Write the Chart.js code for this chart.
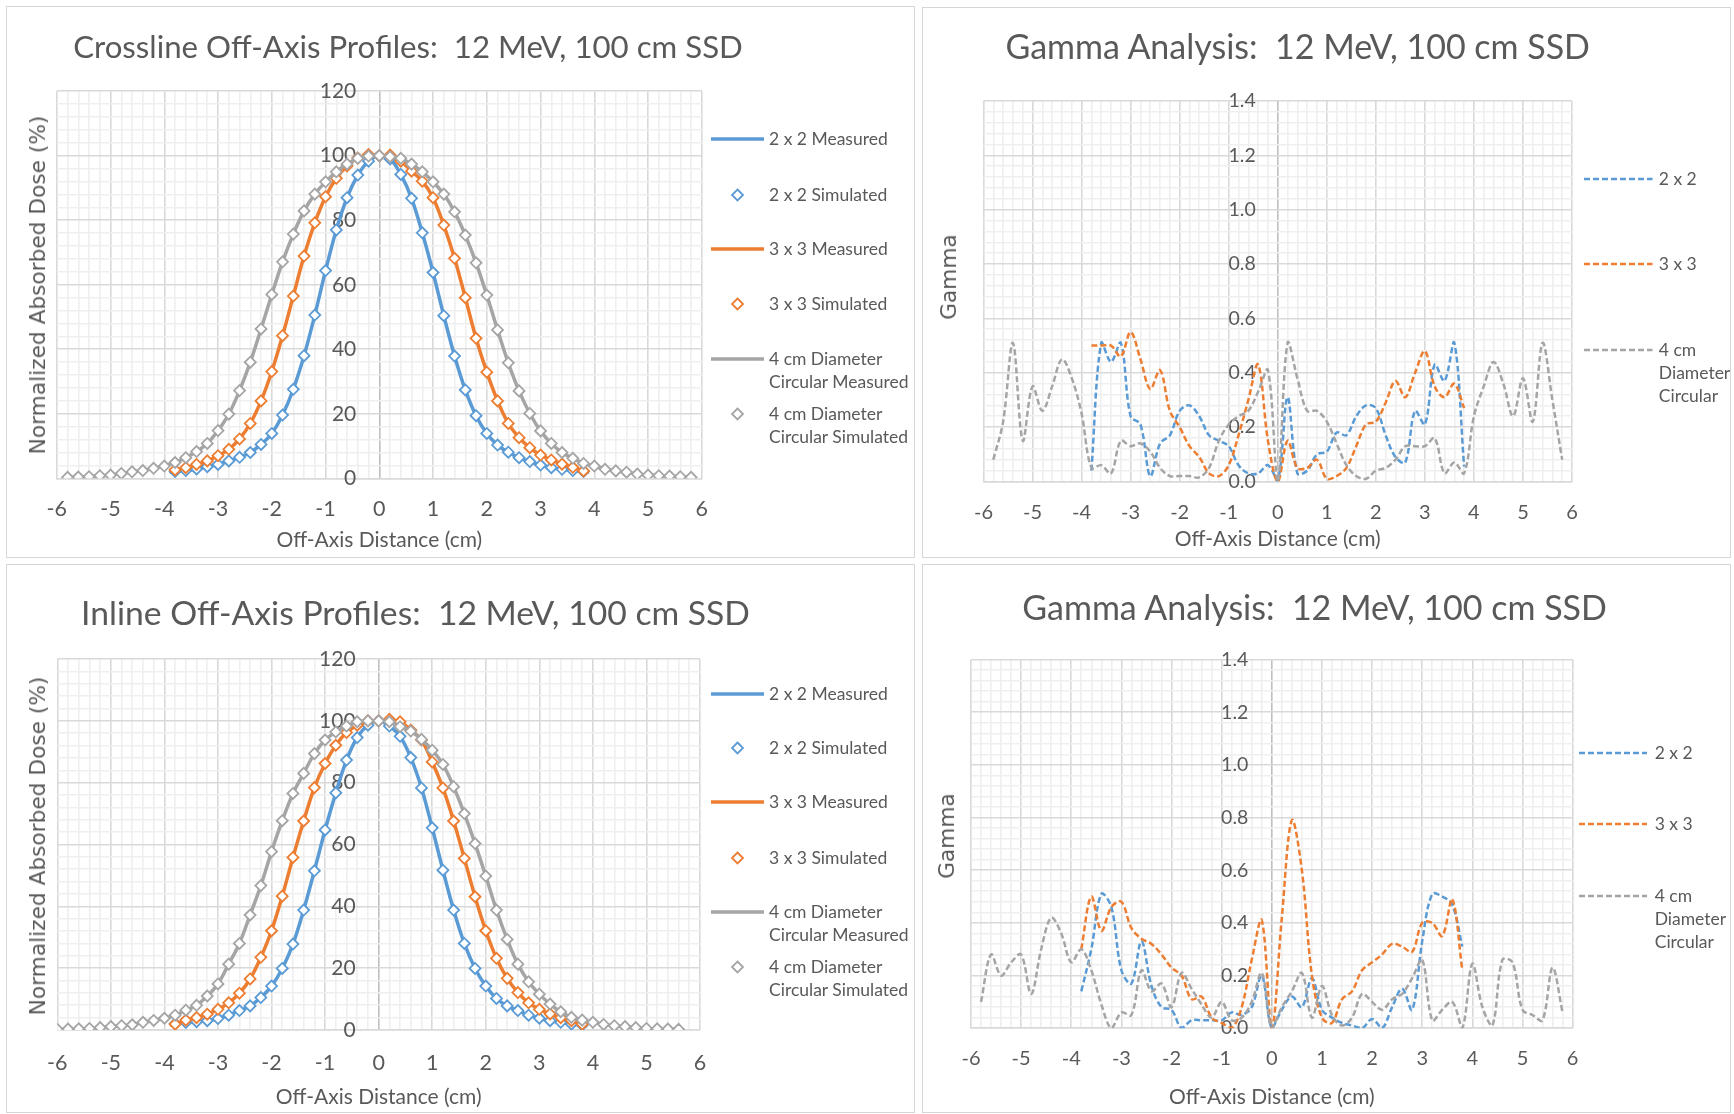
<!DOCTYPE html>
<html>
<head>
<meta charset="utf-8">
<title>12 MeV, 100 cm SSD: off-axis profiles and gamma analysis</title>
<script src="https://cdn.jsdelivr.net/npm/chart.js@4.4.1/dist/chart.umd.min.js"></script>
<style>
  html, body { margin: 0; padding: 0; background: #ffffff; }
  body { position: relative; width: 1734px; height: 1114px; overflow: hidden;
         font-family: Lato, "Open Sans", sans-serif; color: #595959; }
  .panel { position: absolute; box-sizing: border-box; border: 1.5px solid #d6d6d6; }
  canvas { position: absolute; }
  .title { position: absolute; width: 900px; text-align: center; white-space: pre; }
  .ytitle { position: absolute; white-space: nowrap; font-family: "DejaVu Sans", Verdana, sans-serif;
            font-size: 21.7px; line-height: 26px; transform: translate(-50%, -50%) rotate(-90deg); }
  .legtext { position: absolute; white-space: nowrap; font-size: 17.5px; line-height: 23px; }
  svg.sym { position: absolute; overflow: visible; }
</style>
</head>
<body>
<script>
// ---------------------------------------------------------------------------
// Tick labels
// ---------------------------------------------------------------------------
const X_TICK_LABELS = ['-6', '-5', '-4', '-3', '-2', '-1', '0', '1', '2', '3', '4', '5', '6'];
const DOSE_TICK_LABELS = ['0', '20', '40', '60', '80', '100', '120'];
const GAMMA_TICK_LABELS = ['0.0', '0.2', '0.4', '0.6', '0.8', '1.0', '1.2', '1.4'];

// ---------------------------------------------------------------------------
// Off-axis positions (cm)
// ---------------------------------------------------------------------------
const X_WIDE = [-5.8, -5.6, -5.4, -5.2, -5.0, -4.8, -4.6, -4.4, -4.2, -4.0, -3.8, -3.6, -3.4, -3.2, -3.0,
  -2.8, -2.6, -2.4, -2.2, -2.0, -1.8, -1.6, -1.4, -1.2, -1.0, -0.8, -0.6, -0.4, -0.2, 0,
  0.2, 0.4, 0.6, 0.8, 1.0, 1.2, 1.4, 1.6, 1.8, 2.0, 2.2, 2.4, 2.6, 2.8, 3.0, 3.2, 3.4, 3.6, 3.8,
  4.0, 4.2, 4.4, 4.6, 4.8, 5.0, 5.2, 5.4, 5.6, 5.8];
const X_INLINE_WIDE = [-6.0, -5.8, -5.6, -5.4, -5.2, -5.0, -4.8, -4.6, -4.4, -4.2, -4.0, -3.8, -3.6, -3.4,
  -3.2, -3.0, -2.8, -2.6, -2.4, -2.2, -2.0, -1.8, -1.6, -1.4, -1.2, -1.0, -0.8, -0.6, -0.4, -0.2, 0,
  0.2, 0.4, 0.6, 0.8, 1.0, 1.2, 1.4, 1.6, 1.8, 2.0, 2.2, 2.4, 2.6, 2.8, 3.0, 3.2, 3.4, 3.6, 3.8,
  4.0, 4.2, 4.4, 4.6, 4.8, 5.0, 5.2, 5.4, 5.6];
const X_NARROW = [-3.8, -3.6, -3.4, -3.2, -3.0, -2.8, -2.6, -2.4, -2.2, -2.0, -1.8, -1.6, -1.4, -1.2,
  -1.0, -0.8, -0.6, -0.4, -0.2, 0, 0.2, 0.4, 0.6, 0.8, 1.0, 1.2, 1.4, 1.6, 1.8, 2.0, 2.2, 2.4, 2.6,
  2.8, 3.0, 3.2, 3.4, 3.6, 3.8];
const X_NARROW_MEAS = [-3.9, -3.8, -3.6, -3.4, -3.2, -3.0, -2.8, -2.6, -2.4, -2.2, -2.0, -1.8, -1.6, -1.4,
  -1.2, -1.0, -0.8, -0.6, -0.4, -0.2, 0, 0.2, 0.4, 0.6, 0.8, 1.0, 1.2, 1.4, 1.6, 1.8, 2.0, 2.2, 2.4,
  2.6, 2.8, 3.0, 3.2, 3.4, 3.6, 3.8, 3.9];

// ---------------------------------------------------------------------------
// Crossline profiles: normalized absorbed dose (%)
// ---------------------------------------------------------------------------
const crossBlueMeas = [1.9, 2.1, 2.4, 2.9, 3.6, 4.3, 5.4, 6.5, 8.0, 10.5, 13.9, 19.6, 27.6, 38.0, 50.6, 64.4,
  77.0, 87.0, 94.0, 98.3, 100, 99.0, 94.2, 86.8, 76.1, 63.8, 50.4, 37.9, 27.4, 19.4, 13.9, 10.3, 8.1,
  6.4, 5.2, 4.1, 3.3, 2.8, 2.4, 2.1, 1.9];
const crossBlueSim = [2.1, 2.4, 2.9, 3.6, 4.3, 5.4, 6.5, 8.0, 10.5, 13.9, 19.6, 27.6, 38.0, 50.6, 64.4,
  77.0, 87.0, 94.0, 98.3, 100, 99.0, 94.2, 86.8, 76.1, 63.8, 50.4, 37.9, 27.4, 19.4, 13.9, 10.3, 8.1,
  6.4, 5.2, 4.1, 3.3, 2.8, 2.4, 2.1];
const crossOrangeMeas = [2.3, 2.6, 3.3, 4.3, 5.4, 7.0, 9.0, 12.2, 17.0, 24.0, 33.1, 44.2, 56.5, 68.9, 79.2,
  87.3, 93.0, 96.8, 99.3, 100.0, 100, 99.9, 98.3, 95.2, 92.1, 87.0, 78.5, 68.2, 56.0, 43.4, 32.9, 24.0,
  17.0, 12.6, 9.5, 7.2, 5.7, 4.4, 3.4, 2.3, 2.0];
const crossOrangeSim = [2.6, 3.3, 4.3, 5.4, 7.0, 9.0, 12.2, 17.0, 24.0, 33.1, 44.2, 56.5, 68.9, 79.2,
  87.3, 93.0, 96.8, 99.3, 100.4, 100.0, 100.2, 98.3, 95.2, 92.1, 87.0, 78.5, 68.2, 56.0, 43.4, 32.9,
  24.0, 17.0, 12.6, 9.5, 7.2, 5.7, 4.4, 3.4, 2.3];
const crossGrayMeas = [0.3, 0.4, 0.5, 0.8, 1.0, 1.5, 2.0, 2.4, 3.1, 3.8, 4.9, 6.4, 8.3, 10.8, 14.8, 19.9,
  27.2, 36.0, 46.3, 57.0, 67.1, 75.7, 82.9, 88.1, 91.9, 95.0, 97.4, 99.2, 99.9, 100, 99.7, 99.2, 97.4,
  95.0, 91.9, 88.1, 82.6, 75.4, 66.8, 56.8, 46.0, 35.8, 27.1, 20.1, 14.7, 10.8, 8.0, 6.2, 4.6, 3.8,
  2.8, 2.3, 1.9, 1.3, 1.0, 0.8, 0.7, 0.5, 0.3];
const crossGraySim = [0.3, 0.4, 0.5, 0.8, 1.0, 1.5, 2.0, 2.4, 3.1, 3.8, 4.9, 6.4, 8.3, 10.8, 14.8, 19.9,
  27.2, 36.0, 46.3, 57.0, 67.1, 75.7, 82.9, 88.1, 91.9, 95.0, 97.4, 99.2, 99.9, 100, 99.7, 99.2, 97.4,
  95.0, 91.9, 88.1, 82.6, 75.4, 66.8, 56.8, 46.0, 35.8, 27.1, 20.1, 14.7, 10.8, 8.0, 6.2, 4.6, 3.8,
  2.8, 2.3, 1.9, 1.3, 1.0, 0.8, 0.7, 0.5, 0.3];

// ---------------------------------------------------------------------------
// Inline profiles: normalized absorbed dose (%)
// ---------------------------------------------------------------------------
const inlineBlueMeas = [1.8, 2.0, 2.4, 2.7, 3.0, 3.7, 4.8, 6.3, 7.8, 10.5, 14.2, 19.9, 27.8, 38.8, 51.5,
  64.7, 76.7, 87.3, 94.6, 98.6, 100, 98.3, 95.0, 88.1, 78.3, 65.4, 51.7, 38.8, 28.0, 19.9, 14.2, 10.2,
  7.8, 6.3, 4.8, 3.8, 3.0, 2.5, 1.9, 1.6, 1.4];
const inlineBlueSim = [2.0, 2.4, 2.7, 3.0, 3.7, 4.8, 6.3, 7.8, 10.5, 14.2, 19.9, 27.8, 38.8, 51.5, 64.7,
  76.7, 87.3, 94.6, 98.6, 100, 98.3, 95.0, 88.1, 78.3, 65.4, 51.7, 38.8, 28.0, 19.9, 14.2, 10.2, 7.8,
  6.3, 4.8, 3.8, 3.0, 2.5, 1.9, 1.6];
const inlineOrangeMeas = [1.6, 1.9, 3.2, 4.0, 5.1, 6.7, 8.8, 11.9, 16.5, 23.5, 32.1, 43.3, 55.8, 67.6, 78.4,
  86.2, 92.1, 96.2, 98.6, 99.8, 100, 100.1, 99.7, 97.0, 93.8, 86.7, 78.3, 67.6, 55.5, 43.1, 32.1, 23.2,
  16.7, 12.1, 8.8, 6.7, 5.2, 4.0, 3.0, 1.9, 1.6];
const inlineOrangeSim = [1.9, 3.2, 4.0, 5.1, 6.7, 8.8, 11.9, 16.5, 23.5, 32.1, 43.3, 55.8, 67.6, 78.4,
  86.2, 92.1, 96.2, 98.6, 100.0, 100.0, 100.5, 99.7, 97.0, 93.8, 86.7, 78.3, 67.6, 55.5, 43.1, 32.1,
  23.2, 16.7, 12.1, 8.8, 6.7, 5.2, 4.0, 3.0, 1.9];
const inlineGrayMeas = [0.2, 0.3, 0.4, 0.5, 0.8, 1.1, 1.4, 1.7, 2.5, 3.1, 3.8, 4.8, 6.4, 8.0, 11.0, 14.9,
  21.3, 28.0, 37.2, 46.7, 57.7, 67.7, 76.5, 83.0, 89.4, 93.8, 96.4, 98.3, 99.7, 100.0, 100, 99.7, 98.1,
  96.7, 94.0, 90.5, 85.9, 78.7, 70.0, 60.3, 49.8, 38.8, 29.3, 21.3, 15.6, 11.6, 8.4, 5.9, 4.1, 3.2,
  2.5, 1.8, 1.4, 1.1, 0.8, 0.5, 0.4, 0.3, 0.2];
const inlineGraySim = [0.2, 0.3, 0.4, 0.5, 0.8, 1.1, 1.4, 1.7, 2.5, 3.1, 3.8, 4.8, 6.4, 8.0, 11.0, 14.9,
  21.3, 28.0, 37.2, 46.7, 57.7, 67.7, 76.5, 83.0, 89.4, 93.8, 96.4, 98.3, 99.7, 100.0, 100, 99.7, 98.1,
  96.7, 94.0, 90.5, 85.9, 78.7, 70.0, 60.3, 49.8, 38.8, 29.3, 21.3, 15.6, 11.6, 8.4, 5.9, 4.1, 3.2,
  2.5, 1.8, 1.4, 1.1, 0.8, 0.5, 0.4, 0.3, 0.2];

// ---------------------------------------------------------------------------
// Gamma index, crossline
// ---------------------------------------------------------------------------
const crossGammaBlue = [0.04, 0.51, 0.44, 0.51, 0.24, 0.21, 0.02, 0.14, 0.17, 0.26, 0.28, 0.24, 0.17, 0.15,
  0.13, 0.06, 0.03, 0.03, 0.06, 0.0, 0.31, 0.03, 0.04, 0.10, 0.11, 0.18, 0.17, 0.24, 0.28, 0.27, 0.17,
  0.09, 0.07, 0.26, 0.21, 0.43, 0.37, 0.51, 0.055];
const crossGammaOrange = [0.50, 0.50, 0.50, 0.46, 0.55, 0.45, 0.34, 0.41, 0.26, 0.20, 0.13, 0.09, 0.03,
  0.02, 0.06, 0.17, 0.30, 0.43, 0.15, 0.0, 0.15, 0.05, 0.05, 0.08, 0.01, 0.02, 0.05, 0.13, 0.21, 0.22,
  0.29, 0.37, 0.31, 0.40, 0.48, 0.35, 0.31, 0.36, 0.27];
const crossGammaGray = [0.08, 0.22, 0.51, 0.15, 0.35, 0.26, 0.35, 0.45, 0.38, 0.25, 0.05, 0.06, 0.03, 0.15,
  0.13, 0.14, 0.11, 0.05, 0.02, 0.02, 0.02, 0.015, 0.05, 0.15, 0.21, 0.24, 0.26, 0.33, 0.41, 0.0,
  0.51, 0.38, 0.26, 0.26, 0.22, 0.14, 0.06, 0.02, 0.01, 0.04, 0.05, 0.08, 0.13, 0.13, 0.13, 0.16,
  0.03, 0.07, 0.03, 0.24, 0.35, 0.44, 0.36, 0.24, 0.38, 0.22, 0.51, 0.30, 0.08];

// ---------------------------------------------------------------------------
// Gamma index, inline
// ---------------------------------------------------------------------------
const inlineGammaBlue = [0.14, 0.30, 0.51, 0.46, 0.22, 0.17, 0.33, 0.16, 0.08, 0.07, 0.0, 0.03, 0.03, 0.03,
  0.03, 0.06, 0.05, 0.08, 0.20, 0.0, 0.07, 0.12, 0.08, 0.19, 0.07, 0.04, 0.02, 0.01, 0.0, 0.035, 0.0,
  0.08, 0.15, 0.07, 0.33, 0.51, 0.50, 0.47, 0.31];
const inlineGammaOrange = [0.30, 0.50, 0.37, 0.46, 0.48, 0.38, 0.34, 0.32, 0.28, 0.23, 0.20, 0.11, 0.12,
  0.04, 0.02, 0.0, 0.08, 0.26, 0.41, 0.0, 0.42, 0.79, 0.60, 0.20, 0.04, 0.02, 0.11, 0.14, 0.22, 0.25,
  0.28, 0.32, 0.31, 0.29, 0.40, 0.40, 0.35, 0.49, 0.22];
const inlineGammaGray = [0.10, 0.28, 0.20, 0.25, 0.28, 0.13, 0.30, 0.42, 0.36, 0.25, 0.30, 0.22, 0.09, 0.0,
  0.06, 0.05, 0.22, 0.14, 0.17, 0.08, 0.21, 0.15, 0.09, 0.04, 0.10, 0.03, 0.04, 0.10, 0.21, 0.0,
  0.08, 0.14, 0.21, 0.04, 0.16, 0.05, 0.01, 0.04, 0.13, 0.10, 0.07, 0.11, 0.13, 0.19, 0.26, 0.03,
  0.07, 0.10, 0.0, 0.245, 0.08, 0.01, 0.26, 0.25, 0.07, 0.05, 0.03, 0.23, 0.06];

// ---------------------------------------------------------------------------
// Series names
// ---------------------------------------------------------------------------
const PROFILE_NAMES = [['2 x 2 Measured'], ['2 x 2 Simulated'], ['3 x 3 Measured'], ['3 x 3 Simulated'],
  ['4 cm Diameter', 'Circular Measured'], ['4 cm Diameter', 'Circular Simulated']];
const GAMMA_NAMES = [['2 x 2'], ['3 x 3'], ['4 cm', 'Diameter', 'Circular']];

// ---------------------------------------------------------------------------
// Styling
// ---------------------------------------------------------------------------
const BLUE = '#5b9bd5', ORANGE = '#ed7d31', GRAY = '#a5a5a5';
const TEXT = '#595959';
const FONT = 'Lato, "Open Sans", sans-serif';
const GRID_MAJOR = '#d9d9d9', GRID_MINOR = '#efefef', AXIS_LINE = '#bfbfbf';

function pairs(xs, ys) { return xs.map((x, i) => ({ x: x, y: ys[i] })); }
function onStep(v, step) { const q = v / step; return Math.abs(q - Math.round(q)) < 1e-6; }

function measuredLine(label, color, xs, ys, order) {
  return { label, data: pairs(xs, ys), showLine: true, borderColor: color, borderWidth: 3.5,
           tension: 0.35, pointRadius: 0, pointHoverRadius: 0, fill: false, order };
}
function simulatedPoints(label, color, xs, ys, order) {
  return { label, data: pairs(xs, ys), showLine: false, pointStyle: 'rectRot', pointRadius: 5.5,
           pointBorderWidth: 1.8, pointBorderColor: color, pointBackgroundColor: '#ffffff',
           borderColor: color, backgroundColor: '#ffffff', order };
}
function gammaLine(label, color, xs, ys, order) {
  return { label, data: pairs(xs, ys), showLine: true, borderColor: color, borderWidth: 2.5,
           borderDash: [6, 3], tension: 0.35, pointRadius: 0, pointHoverRadius: 0, fill: false, order };
}

// ---------------------------------------------------------------------------
// Panels
// ---------------------------------------------------------------------------
const PANELS = [
  { box: [6, 6, 909, 552], plot: { l: 56.8, r: 701.8, t: 91.2, b: 478.3 }, kind: 'dose',
    title: 'Crossline Off-Axis Profiles:  12 MeV, 100 cm SSD', titleAt: [408, 58.2], titleSize: 31.2,
    yTitle: 'Normalized Absorbed Dose (%)', yTitleAt: [38, 285],
    xTickPad: 17.8, xTitlePad: 5.4, yGap: 23,
    legend: { x0: 711, x1: 764, text: 769, ys: [139, 194.6, 249, 304, 359, 414] },
    datasets: [
      measuredLine('2 x 2 Measured', BLUE, X_NARROW_MEAS, crossBlueMeas, 6),
      simulatedPoints('2 x 2 Simulated', BLUE, X_NARROW, crossBlueSim, 5),
      measuredLine('3 x 3 Measured', ORANGE, X_NARROW_MEAS, crossOrangeMeas, 4),
      simulatedPoints('3 x 3 Simulated', ORANGE, X_NARROW, crossOrangeSim, 3),
      measuredLine('4 cm Diameter Circular Measured', GRAY, X_WIDE, crossGrayMeas, 2),
      simulatedPoints('4 cm Diameter Circular Simulated', GRAY, X_WIDE, crossGraySim, 1)
    ] },
  { box: [922, 7, 809, 551], plot: { l: 983.5, r: 1572, t: 101, b: 481.5 }, kind: 'gamma',
    title: 'Gamma Analysis:  12 MeV, 100 cm SSD', titleAt: [1297.7, 58.9], titleSize: 34,
    yTitle: 'Gamma', yTitleAt: [948.5, 277],
    xTickPad: 19, xTitlePad: 6.4, yGap: 22,
    legend: { x0: 1583.5, x1: 1652, text: 1658.8, ys: [179.3, 264, 350] },
    datasets: [
      gammaLine('2 x 2', BLUE, X_NARROW, crossGammaBlue, 3),
      gammaLine('3 x 3', ORANGE, X_NARROW, crossGammaOrange, 2),
      gammaLine('4 cm Diameter Circular', GRAY, X_WIDE, crossGammaGray, 1)
    ] },
  { box: [6, 564, 909, 549], plot: { l: 57.3, r: 700, t: 659, b: 1030 }, kind: 'dose',
    title: 'Inline Off-Axis Profiles:  12 MeV, 100 cm SSD', titleAt: [415.5, 625.4], titleSize: 33.7,
    yTitle: 'Normalized Absorbed Dose (%)', yTitleAt: [38, 846],
    xTickPad: 20.6, xTitlePad: 3.4, yGap: 23,
    legend: { x0: 711, x1: 764, text: 769, ys: [693.6, 748, 802.4, 857.5, 912.3, 967.4] },
    datasets: [
      measuredLine('2 x 2 Measured', BLUE, X_NARROW_MEAS, inlineBlueMeas, 6),
      simulatedPoints('2 x 2 Simulated', BLUE, X_NARROW, inlineBlueSim, 5),
      measuredLine('3 x 3 Measured', ORANGE, X_NARROW_MEAS, inlineOrangeMeas, 4),
      simulatedPoints('3 x 3 Simulated', ORANGE, X_NARROW, inlineOrangeSim, 3),
      measuredLine('4 cm Diameter Circular Measured', GRAY, X_INLINE_WIDE, inlineGrayMeas, 2),
      simulatedPoints('4 cm Diameter Circular Simulated', GRAY, X_INLINE_WIDE, inlineGraySim, 1)
    ] },
  { box: [922, 564, 809, 549], plot: { l: 971, r: 1572.6, t: 659.6, b: 1028.2 }, kind: 'gamma',
    title: 'Gamma Analysis:  12 MeV, 100 cm SSD', titleAt: [1314.6, 620], titleSize: 34,
    yTitle: 'Gamma', yTitleAt: [947, 836],
    xTickPad: 18.8, xTitlePad: 3.4, yGap: 23.5,
    legend: { x0: 1579, x1: 1647, text: 1654.7, ys: [752.6, 824.3, 895.7] },
    datasets: [
      gammaLine('2 x 2', BLUE, X_NARROW, inlineGammaBlue, 3),
      gammaLine('3 x 3', ORANGE, X_NARROW, inlineGammaOrange, 2),
      gammaLine('4 cm Diameter Circular', GRAY, X_WIDE, inlineGammaGray, 1)
    ] }
];

function addEl(tag, cls, styles, text) {
  const el = document.createElement(tag);
  if (cls) el.className = cls;
  Object.assign(el.style, styles);
  if (text !== undefined) el.textContent = text;
  document.body.appendChild(el);
  return el;
}

function drawLegend(p) {
  const lg = p.legend;
  const names = p.kind === 'dose' ? PROFILE_NAMES : GAMMA_NAMES;
  const svgNS = 'http://www.w3.org/2000/svg';
  names.forEach((lines, i) => {
    const ds = p.datasets[i];
    const y = lg.ys[i];
    const svg = document.createElementNS(svgNS, 'svg');
    svg.setAttribute('class', 'sym');
    svg.setAttribute('width', lg.x1 - lg.x0);
    svg.setAttribute('height', 20);
    svg.style.left = lg.x0 + 'px';
    svg.style.top = (y - 10) + 'px';
    if (ds.showLine) {
      const ln = document.createElementNS(svgNS, 'line');
      ln.setAttribute('x1', 0); ln.setAttribute('x2', lg.x1 - lg.x0);
      ln.setAttribute('y1', 10); ln.setAttribute('y2', 10);
      ln.setAttribute('stroke', ds.borderColor);
      ln.setAttribute('stroke-width', ds.borderWidth);
      if (ds.borderDash) ln.setAttribute('stroke-dasharray', ds.borderDash.join(' '));
      svg.appendChild(ln);
    } else {
      const cx = (lg.x1 - lg.x0) / 2, r = 5.5;
      const pg = document.createElementNS(svgNS, 'polygon');
      pg.setAttribute('points', `${cx},${10 - r} ${cx + r},10 ${cx},${10 + r} ${cx - r},10`);
      pg.setAttribute('fill', '#ffffff');
      pg.setAttribute('stroke', ds.pointBorderColor);
      pg.setAttribute('stroke-width', 1.8);
      svg.appendChild(pg);
    }
    document.body.appendChild(svg);
    lines.forEach((t, k) => {
      addEl('div', 'legtext', { left: lg.text + 'px', top: (y - 12 + k * 23) + 'px' }, t);
    });
  });
}

function buildPanel(p) {
  const [bx, by, bw, bh] = p.box;
  addEl('div', 'panel', { left: bx + 'px', top: by + 'px', width: bw + 'px', height: bh + 'px' });
  const canvas = addEl('canvas', null, { left: bx + 'px', top: by + 'px', width: bw + 'px', height: bh + 'px' });
  canvas.width = bw; canvas.height = bh;

  const pl = p.plot;
  const zeroX = (pl.l + pl.r) / 2;
  const isDose = p.kind === 'dose';
  const yMax = isDose ? 120 : 1.4;
  const yMinor = isDose ? 4 : 0.04;
  const yMajor = isDose ? 20 : 0.2;
  const yLabels = isDose ? DOSE_TICK_LABELS : GAMMA_TICK_LABELS;
  const yTickSize = isDose ? 21 : 19.5;
  const xTickSize = isDose ? 21.5 : 20;

  new Chart(canvas, {
    type: 'scatter',
    data: { datasets: p.datasets },
    options: {
      responsive: false,
      animation: false,
      devicePixelRatio: 1,
      events: [],
      layout: { padding: { left: pl.l - bx, right: bx + bw - pl.r, top: pl.t - by, bottom: 0 } },
      plugins: { legend: { display: false }, tooltip: { enabled: false }, title: { display: false } },
      scales: {
        x: {
          type: 'linear', position: 'bottom', min: -6, max: 6,
          afterFit: s => { s.height = by + bh - pl.b; },
          ticks: {
            stepSize: 0.2, autoSkip: false, maxRotation: 0, minRotation: 0,
            padding: p.xTickPad, color: TEXT, font: { family: FONT, size: xTickSize },
            callback: v => onStep(v, 1) ? X_TICK_LABELS[Math.round(v) + 6] : ''
          },
          grid: {
            drawTicks: false,
            color: c => {
              const v = c.tick ? c.tick.value : 1;
              if (Math.abs(v) < 1e-9) return AXIS_LINE;
              return onStep(v, 1) ? GRID_MAJOR : GRID_MINOR;
            },
            lineWidth: 1.6
          },
          border: { display: true, color: GRID_MAJOR, width: 1.6 },
          title: { display: true, text: 'Off-Axis Distance (cm)', color: TEXT,
                   font: { family: FONT, size: 21 }, padding: { top: 0, bottom: p.xTitlePad } }
        },
        y: {
          // zero-width axis on the right edge; its mirrored, right-aligned labels are
          // shifted back so they end just left of the x = 0 line
          type: 'linear', position: 'right', min: 0, max: yMax,
          afterFit: s => {
            s.width = 0;
            s.paddingTop = 0; s.paddingBottom = 0; s.paddingLeft = 0; s.paddingRight = 0;
          },
          ticks: {
            mirror: true,
            stepSize: yMinor, autoSkip: false, color: TEXT, font: { family: FONT, size: yTickSize },
            padding: -(pl.r - zeroX + p.yGap),
            callback: v => onStep(v, yMajor) ? yLabels[Math.round(v / yMajor)] : ''
          },
          grid: {
            drawTicks: false,
            color: c => (c.tick && onStep(c.tick.value, yMajor)) ? GRID_MAJOR : GRID_MINOR,
            lineWidth: 1.6
          },
          border: { display: false }
        }
      }
    }
  });

  const fs = p.titleSize;
  // baseline of a one-line box with line-height = font-size sits about 0.887 em below its top
  addEl('div', 'title', { left: (p.titleAt[0] - 450) + 'px', top: (p.titleAt[1] - 0.887 * fs) + 'px',
                          fontSize: fs + 'px', lineHeight: fs + 'px' }, p.title);
  addEl('div', 'ytitle', { left: p.yTitleAt[0] + 'px', top: p.yTitleAt[1] + 'px' }, p.yTitle);
  drawLegend(p);
}

PANELS.forEach(buildPanel);
</script>
</body>
</html>
